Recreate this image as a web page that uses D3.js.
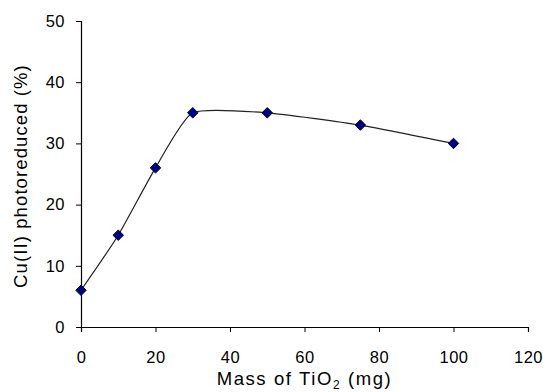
<!DOCTYPE html>
<html>
<head>
<meta charset="utf-8">
<script src="https://cdn.jsdelivr.net/npm/d3@7"></script>
<style>
  body { margin: 0; background: #fff; }
  svg { display: block; font-family: "Liberation Sans", Arial, sans-serif; }
</style>
</head>
<body>
<div id="chart"></div>
<script>
// data
const massTiO2 = [0, 10, 20, 30, 50, 75, 100];
const cuReduced = [6, 15, 26, 35, 35, 33, 30];
const xTicks = [0, 20, 40, 60, 80, 100, 120];
const yTicks = [0, 10, 20, 30, 40, 50];

const width = 543;
const height = 392;
const margin = { top: 21, right: 15, bottom: 65, left: 81 };
const plotW = width - margin.left - margin.right;
const plotH = height - margin.top - margin.bottom;

const points = massTiO2.map((m, i) => ({ m, v: cuReduced[i] }));

const x = d3.scaleLinear().domain([0, 120]).range([0, plotW]);
const y = d3.scaleLinear().domain([0, 50]).range([plotH, 0]);

const svg = d3.select("#chart").append("svg")
  .attr("width", width)
  .attr("height", height);

const g = svg.append("g")
  .attr("transform", `translate(${margin.left},${margin.top})`);

// ---- axes ----
const xAxis = g.append("g")
  .attr("transform", `translate(0,${plotH})`)
  .call(d3.axisBottom(x).tickValues(xTicks).tickSize(5).tickPadding(19));
const yAxis = g.append("g")
  .call(d3.axisLeft(y).tickValues(yTicks).tickSize(5).tickPadding(11));

[xAxis, yAxis].forEach((a) => {
  a.select(".domain").attr("stroke", "#000").attr("stroke-width", 1.2);
  a.selectAll(".tick line").attr("stroke", "#000");
  a.selectAll(".tick text")
    .attr("font-size", 16.5)
    .attr("fill", "#000")
    .attr("letter-spacing", 0.5)
    .attr("font-family", "Liberation Sans, Arial, sans-serif");
});

// ---- axis titles ----
const xTitle = g.append("text")
  .attr("x", plotW / 2)
  .attr("y", plotH + 58)
  .attr("text-anchor", "middle")
  .attr("font-size", 18.5)
  .attr("letter-spacing", 1.6)
  .attr("fill", "#000");
xTitle.append("tspan").text("Mass of TiO");
xTitle.append("tspan").attr("font-size", 12).attr("dy", 4).text("2");
xTitle.append("tspan").attr("dy", -4).text(" (mg)");

g.append("text")
  .attr("transform", "rotate(-90)")
  .attr("x", -plotH / 2 - 2)
  .attr("y", -54)
  .attr("text-anchor", "middle")
  .attr("font-size", 18.5)
  .attr("letter-spacing", 1.1)
  .attr("fill", "#000")
  .text("Cu(II) photoreduced (%)");

// ---- smoothed line ----
const line = d3.line()
  .x((d) => x(d.m))
  .y((d) => y(d.v))
  .curve(d3.curveCardinal.tension(0.45));

g.append("path")
  .datum(points)
  .attr("d", line)
  .attr("fill", "none")
  .attr("stroke", "#222")
  .attr("stroke-width", 1.2);

// ---- diamond markers ----
g.append("g")
  .selectAll("path")
  .data(points)
  .join("path")
  .attr("transform", (d) => `translate(${x(d.m)},${y(d.v)})`)
  .attr("d", d3.symbol(d3.symbolDiamond2, 70))
  .attr("fill", "#000080")
  .attr("stroke", "#000040")
  .attr("stroke-width", 1);
</script>
</body>
</html>
